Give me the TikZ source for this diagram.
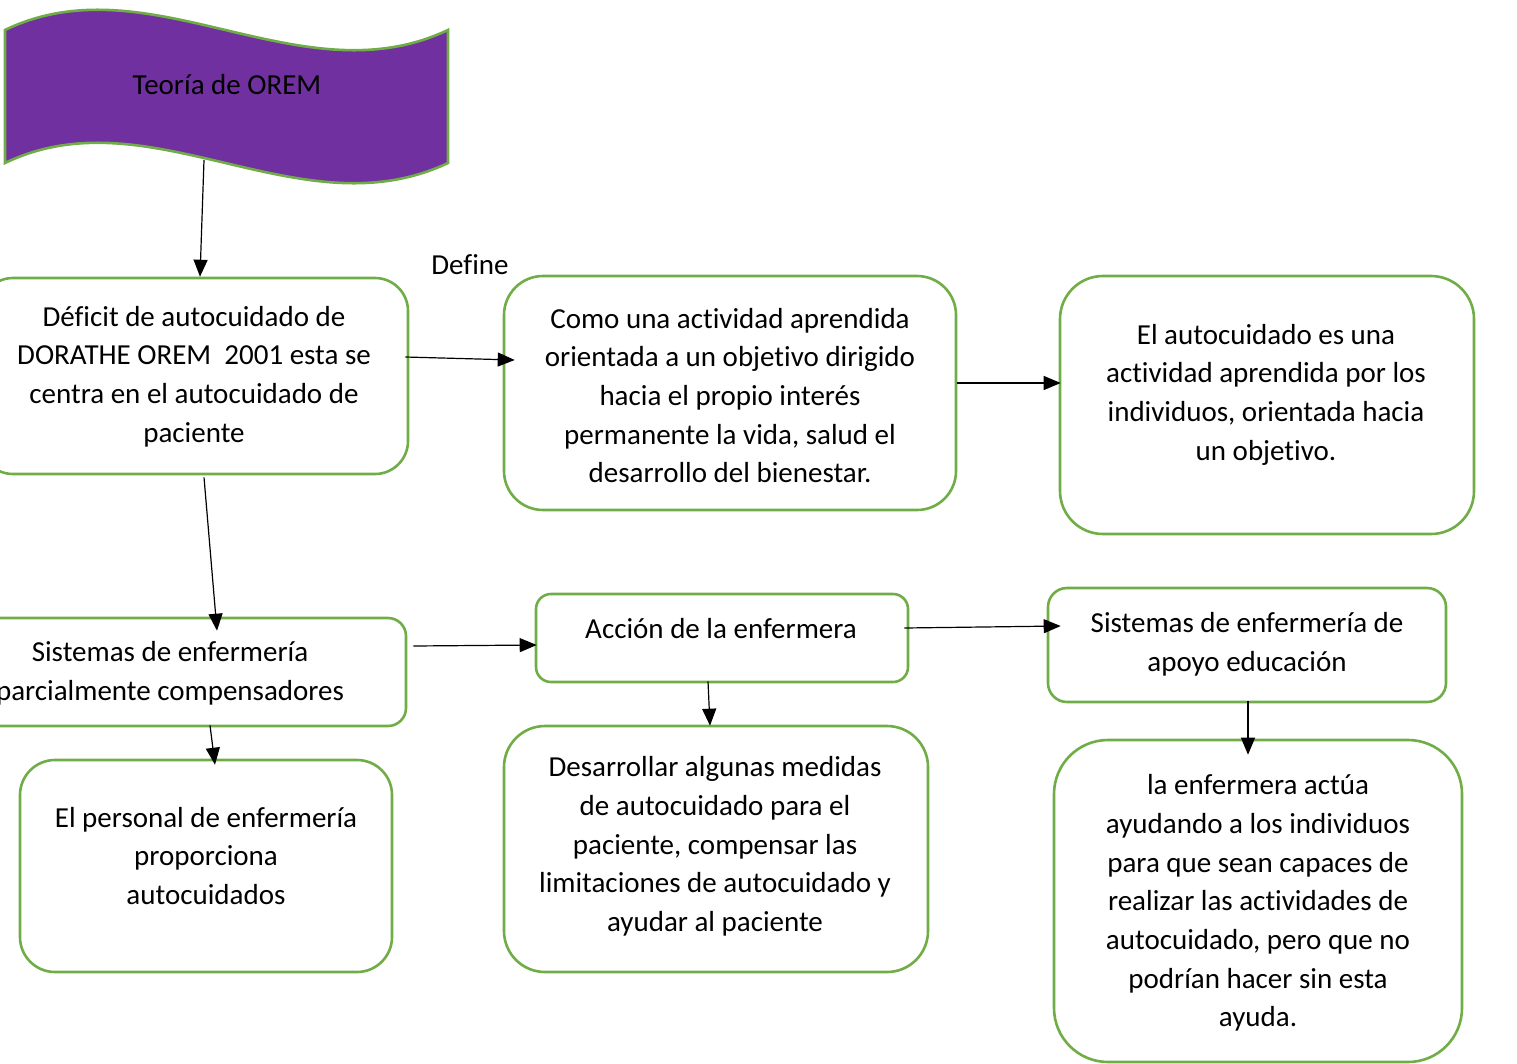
\documentclass[tikz,border=0pt]{standalone}
\usepackage{fontspec}
\setmainfont{Carlito}[Ligatures=NoCommon]
\usetikzlibrary{arrows.meta,calc}
\definecolor{grn}{HTML}{70AD47}
\definecolor{purp}{HTML}{7030A0}
\tikzset{
  box/.style={draw=grn, line width=2.6pt, fill=white, inner sep=0pt},
  txt/.style={align=center, font=\fontsize{29}{38.7}\selectfont, inner sep=0pt},
  arr/.style={-{Triangle[length=17pt,width=14pt]}, line width=1.2pt}
}
\begin{document}
\begin{tikzpicture}[x=1pt,y=-1pt]
\useasboundingbox (0,0) rectangle (1517,1063);
\begin{scope}
\clip (0,0) rectangle (1517,1063);
% banner
\draw[draw=grn, line width=2.6pt, fill=purp]
  (5,30) .. controls (150,-40) and (300,100) .. (448,30)
  -- (448,163) .. controls (300,233) and (150,93) .. (5,163) -- cycle;
\node[txt] (T) at (227,85) {Teoría de OREM};
\coordinate (Tb) at (204,160);

% boxes
\node[box, minimum width=428pt, minimum height=196pt, rounded corners=33pt] (A) at (194,376) {};
\node[box, minimum width=452pt, minimum height=234pt, rounded corners=39pt] (B) at (730,393) {};
\node[box, minimum width=414pt, minimum height=258pt, rounded corners=43pt] (C) at (1267,405) {};
\node[box, minimum width=472pt, minimum height=108pt, rounded corners=18pt] (D) at (170,672) {};
\node[box, minimum width=372pt, minimum height=88pt, rounded corners=15pt] (E) at (722,638) {};
\node[box, minimum width=398pt, minimum height=114pt, rounded corners=19pt] (F) at (1247,645) {};
\node[box, minimum width=372pt, minimum height=212pt, rounded corners=35pt] (G) at (206,866) {};
\node[box, minimum width=424pt, minimum height=246pt, rounded corners=41pt] (H) at (716,849) {};
\node[box, minimum width=408pt, minimum height=322pt, rounded corners=54pt] (I) at (1258,901) {};

% texts
\node[txt] (At) at (194,376.5) {Déficit de autocuidado de\\DORATHE OREM\ \ 2001 esta se\\centra en el autocuidado de\\paciente};
\node[txt] (Bt) at (730,395.5) {Como una actividad aprendida\\orientada a un objetivo dirigido\\hacia el propio interés\\permanente la vida, salud el\\desarrollo del bienestar.};
\node[txt] (Ct) at (1266,394.5) {El autocuidado es una\\actividad aprendida por los\\individuos, orientada hacia\\un objetivo.};
\node[txt] (Dt) at (170,673.5) {Sistemas de enfermería\\parcialmente compensadores};
\node[txt] (Et) at (721,629) {Acción de la enfermera};
\node[txt] (Ft) at (1247,644) {Sistemas de enfermería de\\apoyo educación};
\node[txt] (Gt) at (206,856) {El personal de enfermería\\proporciona\\autocuidados};
\node[txt] (Ht) at (715,846.5) {Desarrollar algunas medidas\\de autocuidado para el\\paciente, compensar las\\limitaciones de autocuidado y\\ayudar al paciente};
\node[txt] (It) at (1258,903) {la enfermera actúa\\ayudando a los individuos\\para que sean capaces de\\realizar las actividades de\\autocuidado, pero que no\\podrían hacer sin esta\\ayuda.};
\node[txt] (def) at (470,265) {Define};

% connectors
\draw[arr] (Tb) -- ($(A.north)+(6,0)$);
\draw[arr] ($(A.east)+(-4,-19)$) -- ($(B.west)+(12,-33)$);
\draw[arr] ($(B.east)+(0,-10)$) -- ($(C.west)+(2,-22)$);
\draw[arr] ($(A.south)+(10,2)$) -- ($(D.north)+(47,14)$);
\draw[arr] ($(D.east)+(6,-26)$) -- ($(E.west)+(2,7)$);
\draw[arr] ($(E.east)+(-5,-10)$) -- ($(F.west)+(14,-19)$);
\draw[arr] ($(E.south)+(-14,-2)$) -- ($(H.north)+(-6,1)$);
\draw[arr] ($(D.south)+(40,-2)$) -- ($(G.north)+(9,6)$);
\draw[arr] ($(F.south)+(1,-2)$) -- ($(I.north)+(-10,16)$);
\end{scope}
\end{tikzpicture}
\end{document}
